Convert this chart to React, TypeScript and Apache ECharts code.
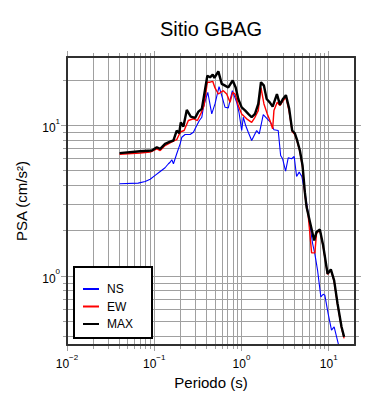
import React, { useEffect, useRef } from 'react';
import * as echarts from 'echarts';

// ---- data (period in s, PSA in cm/s^2) ----
const nsPeriods = [0.04, 0.0654, 0.0787, 0.0898, 0.1024, 0.117, 0.133, 0.1454, 0.152, 0.159, 0.166, 0.181, 0.198, 0.207, 0.2257, 0.2575, 0.281, 0.307, 0.329, 0.351, 0.366, 0.389, 0.411, 0.456, 0.497, 0.553, 0.594, 0.648, 0.706, 0.785, 0.881, 0.936, 1.005, 1.049, 1.117, 1.196, 1.308, 1.492, 1.598, 1.776, 1.974, 2.159, 2.354, 2.636, 2.809, 2.961, 3.203, 3.431, 3.752, 4.019, 4.281, 4.585, 4.922, 5.33, 5.81, 6.53, 6.93, 7.44, 8.12, 8.63, 9.03, 9.84, 10.76, 11.53, 13.15];
const nsValues = [4.11, 4.15, 4.26, 4.4, 4.67, 4.96, 5.25, 5.58, 5.71, 5.93, 5.58, 6.5, 7.56, 8.37, 8.72, 8.72, 9.03, 10.0, 10.8, 11.35, 13.2, 15.0, 16.6, 11.95, 13.92, 18.13, 15.8, 13.22, 13.1, 17.05, 14.27, 12.25, 9.27, 11.35, 10.0, 9.03, 7.96, 9.27, 8.81, 11.83, 11.08, 10.5, 9.37, 9.27, 6.33, 6.02, 4.98, 6.11, 6.02, 6.23, 4.59, 4.91, 4.59, 3.6, 2.65, 1.65, 1.41, 1.1, 0.729, 0.76, 0.748, 0.566, 0.439, 0.462, 0.339];

const ewPeriods = [0.04, 0.069, 0.0898, 0.107, 0.117, 0.133, 0.152, 0.166, 0.181, 0.193, 0.2015, 0.22, 0.246, 0.281, 0.312, 0.341, 0.372, 0.406, 0.436, 0.468, 0.497, 0.543, 0.619, 0.677, 0.739, 0.793, 0.843, 0.919, 1.005, 1.147, 1.308, 1.427, 1.557, 1.672, 1.809, 1.974, 2.119, 2.275, 2.354, 2.568, 2.757, 2.96, 3.23, 3.52, 3.81, 4.09, 4.35, 4.67, 5.01, 5.33, 5.81, 6.08, 6.36, 6.93, 7.25, 7.91, 8.63, 9.69, 10.57, 11.53, 12.61, 14.01, 15.0];
const ewValues = [6.45, 6.58, 6.66, 7.01, 6.83, 7.37, 7.68, 7.87, 8.07, 8.72, 9.1, 9.27, 10.8, 11.1, 10.8, 11.95, 13.56, 19.4, 19.4, 19.65, 17.77, 16.2, 17.05, 16.2, 14.27, 16.61, 16.2, 13.56, 11.95, 11.08, 10.5, 11.35, 12.57, 17.85, 13.92, 11.95, 10.8, 9.51, 12.57, 14.27, 13.56, 14.42, 15.44, 12.38, 9.13, 8.72, 7.83, 6.73, 5.27, 3.44, 2.54, 1.92, 1.43, 1.43, 1.93, 2.02, 1.58, 1.03, 1.1, 0.93, 0.65, 0.455, 0.387];

const maxPeriods = [0.04, 0.069, 0.094, 0.107, 0.117, 0.133, 0.152, 0.166, 0.181, 0.193, 0.2015, 0.216, 0.236, 0.262, 0.294, 0.321, 0.351, 0.375, 0.406, 0.436, 0.468, 0.489, 0.543, 0.594, 0.648, 0.706, 0.793, 0.858, 0.919, 1.005, 1.097, 1.196, 1.308, 1.427, 1.557, 1.672, 1.809, 1.943, 2.119, 2.275, 2.548, 2.757, 2.96, 3.23, 3.52, 3.81, 4.09, 4.35, 4.67, 5.01, 5.33, 5.57, 6.81, 7.25, 7.91, 8.63, 9.69, 10.57, 11.53, 12.61, 14.01, 15.0];
const maxValues = [6.56, 6.76, 6.83, 7.18, 7.01, 7.56, 7.83, 7.96, 9.27, 8.89, 10.5, 9.85, 12.7, 11.47, 11.25, 12.38, 12.9, 16.2, 21.4, 20.9, 21.8, 20.7, 22.9, 18.9, 18.4, 17.9, 19.9, 17.9, 15.0, 13.2, 12.6, 11.95, 11.35, 11.95, 13.9, 19.4, 18.4, 15.0, 14.2, 13.36, 16.17, 13.77, 14.87, 15.92, 12.96, 9.27, 8.89, 7.96, 6.83, 5.43, 3.6, 2.88, 1.73, 1.97, 2.04, 1.6, 1.04, 1.11, 0.94, 0.66, 0.462, 0.396];

// ---- axis ticks ----
const xMajorTicks = [0.01, 0.1, 1, 10];
const xMinorTicks = [0.02, 0.03, 0.04, 0.05, 0.06, 0.07, 0.08, 0.09, 0.2, 0.3, 0.4, 0.5, 0.6, 0.7, 0.8, 0.9, 2, 3, 4, 5, 6, 7, 8, 9];
const yMajorTicks = [1, 10];
const yMinorTicks = [0.4, 0.5, 0.6, 0.7, 0.8, 0.9, 2, 3, 4, 5, 6, 7, 8, 9, 20];

const X_MIN = 0.01;
const X_MAX = 20;
const Y_MIN = 0.35;
const Y_MAX = 28.5;

const FONT = '"Liberation Sans", Arial, Helvetica, sans-serif';
const GRID_COLOR = '#a0a0a0';
const FRAME_COLOR = '#303030';

function powLabel(v: number): string {
  const e = Math.round(Math.log10(v));
  if (Math.abs(v - Math.pow(10, e)) > 1e-6 * Math.pow(10, e)) return '';
  const sup = (e < 0 ? '\u2212' : '') + Math.abs(e);
  return `{b|10}{s|${sup}}`;
}

const richLabel = {
  b: { fontSize: 12, fontFamily: FONT, color: '#000', verticalAlign: 'bottom', lineHeight: 17 },
  s: { fontSize: 8, fontFamily: FONT, color: '#000', verticalAlign: 'top', lineHeight: 17 },
};

function crisp(v: number) {
  return Math.round(v - 0.5) + 0.5;
}

export default function App() {
  const ref = useRef<HTMLDivElement>(null);

  useEffect(() => {
    if (!ref.current) return;
    const chart = echarts.init(ref.current, null, { renderer: 'svg' });

    const xTickData = [
      ...xMajorTicks.map((v) => [v, Y_MIN, 1]),
      ...xMinorTicks.map((v) => [v, Y_MIN, 0]),
    ];
    const yTickData = [
      ...yMajorTicks.map((v) => [X_MIN, v, 1]),
      ...yMinorTicks.map((v) => [X_MIN, v, 0]),
    ];

    const lineStyleGrid = { stroke: GRID_COLOR, lineWidth: 1 };

    const option: any = {
      animation: false,
      backgroundColor: '#fff',
      textStyle: { fontFamily: FONT },
      title: {
        text: 'Sitio GBAG',
        left: 211,
        textAlign: 'center',
        top: 19,
        padding: 0,
        textStyle: { fontSize: 20, fontWeight: 'normal', color: '#000', fontFamily: FONT },
      },
      grid: { left: 67, right: 35, top: 57, bottom: 55 },
      legend: {
        orient: 'vertical',
        left: 74,
        top: 267,
        padding: [16, 19, 8, 8],
        itemWidth: 16,
        itemHeight: 12,
        itemGap: 5.5,
        borderColor: '#000',
        borderWidth: 2,
        backgroundColor: '#fff',
        itemStyle: { opacity: 0 },
        textStyle: { fontSize: 12, color: '#000', fontFamily: FONT, padding: [0, 0, 0, 3] },
        data: ['NS', 'EW', 'MAX'],
      },
      xAxis: [
        {
          type: 'log',
          logBase: 10,
          min: X_MIN,
          max: X_MAX,
          position: 'bottom',
          z: 10,
          name: 'Periodo (s)',
          nameLocation: 'middle',
          nameGap: 28,
          nameTextStyle: { fontSize: 15, color: '#000', fontFamily: FONT },
          axisLine: { show: true, onZero: false, lineStyle: { color: FRAME_COLOR, width: 2 } },
          axisTick: { show: false },
          splitLine: { show: false },
          axisLabel: {
            margin: 8,
            formatter: (v: number) => powLabel(v),
            rich: richLabel,
            showMinLabel: true,
            showMaxLabel: true,
          },
        },
        {
          type: 'log',
          logBase: 10,
          min: X_MIN,
          max: X_MAX,
          position: 'top',
          z: 10,
          axisLine: { show: true, onZero: false, lineStyle: { color: FRAME_COLOR, width: 2 } },
          axisTick: { show: false },
          splitLine: { show: false },
          axisLabel: { show: false },
        },
      ],
      yAxis: [
        {
          type: 'log',
          logBase: 10,
          min: Y_MIN,
          max: Y_MAX,
          position: 'left',
          z: 10,
          name: 'PSA (cm/s\u00b2)',
          nameLocation: 'middle',
          nameGap: 38,
          nameTextStyle: { fontSize: 15, color: '#000', fontFamily: FONT },
          axisLine: { show: true, onZero: false, lineStyle: { color: FRAME_COLOR, width: 2 } },
          axisTick: { show: false },
          splitLine: { show: false },
          axisLabel: {
            margin: 7,
            formatter: (v: number) => powLabel(v),
            rich: richLabel,
          },
        },
        {
          type: 'log',
          logBase: 10,
          min: Y_MIN,
          max: Y_MAX,
          position: 'right',
          z: 10,
          axisLine: { show: true, onZero: false, lineStyle: { color: FRAME_COLOR, width: 2 } },
          axisTick: { show: false },
          splitLine: { show: false },
          axisLabel: { show: false },
        },
      ],
      series: [
        {
          type: 'custom',
          name: 'xgrid',
          z: 1,
          silent: true,
          clip: false,
          xAxisIndex: 0,
          yAxisIndex: 0,
          data: xTickData,
          renderItem: (_p: any, api: any) => {
            const v = api.value(0);
            const major = api.value(2) === 1;
            const top = api.coord([v, Y_MAX]);
            const bot = api.coord([v, Y_MIN]);
            const x = crisp(top[0]);
            const len = major ? 5 : 3;
            return {
              type: 'group',
              children: [
                { type: 'line', shape: { x1: x, y1: top[1], x2: x, y2: bot[1] }, style: lineStyleGrid },
                { type: 'line', shape: { x1: x, y1: top[1], x2: x, y2: top[1] - len - 1 }, style: lineStyleGrid },
                { type: 'line', shape: { x1: x, y1: bot[1], x2: x, y2: bot[1] + len + 1 }, style: lineStyleGrid },
              ],
            };
          },
        },
        {
          type: 'custom',
          name: 'ygrid',
          z: 1,
          silent: true,
          clip: false,
          xAxisIndex: 0,
          yAxisIndex: 0,
          data: yTickData,
          renderItem: (_p: any, api: any) => {
            const v = api.value(1);
            const major = api.value(2) === 1;
            const left = api.coord([X_MIN, v]);
            const right = api.coord([X_MAX, v]);
            const y = crisp(left[1]);
            const len = major ? 5 : 3;
            return {
              type: 'group',
              children: [
                { type: 'line', shape: { x1: left[0], y1: y, x2: right[0], y2: y }, style: lineStyleGrid },
                { type: 'line', shape: { x1: left[0], y1: y, x2: left[0] - len - 1, y2: y }, style: lineStyleGrid },
                { type: 'line', shape: { x1: right[0], y1: y, x2: right[0] + len + 1, y2: y }, style: lineStyleGrid },
              ],
            };
          },
        },
        {
          type: 'line',
          name: 'NS',
          z: 3,
          symbol: 'none',
          data: nsPeriods.map((t, i) => [t, nsValues[i]]),
          itemStyle: { color: '#0000ff' },
          lineStyle: { color: '#0000ff', width: 1.1 },
        },
        {
          type: 'line',
          name: 'EW',
          z: 4,
          symbol: 'none',
          data: ewPeriods.map((t, i) => [t, ewValues[i]]),
          itemStyle: { color: '#ff0000' },
          lineStyle: { color: '#ff0000', width: 1.4 },
        },
        {
          type: 'line',
          name: 'MAX',
          z: 5,
          symbol: 'none',
          data: maxPeriods.map((t, i) => [t, maxValues[i]]),
          itemStyle: { color: '#000000' },
          lineStyle: { color: '#000000', width: 2.4 },
        },
      ],
    };

    chart.setOption(option);
    return () => {
      chart.dispose();
    };
  }, []);

  return (
    <div
      ref={ref}
      style={{ position: 'fixed', left: 0, top: 0, width: 390, height: 400, background: '#fff' }}
    />
  );
}
